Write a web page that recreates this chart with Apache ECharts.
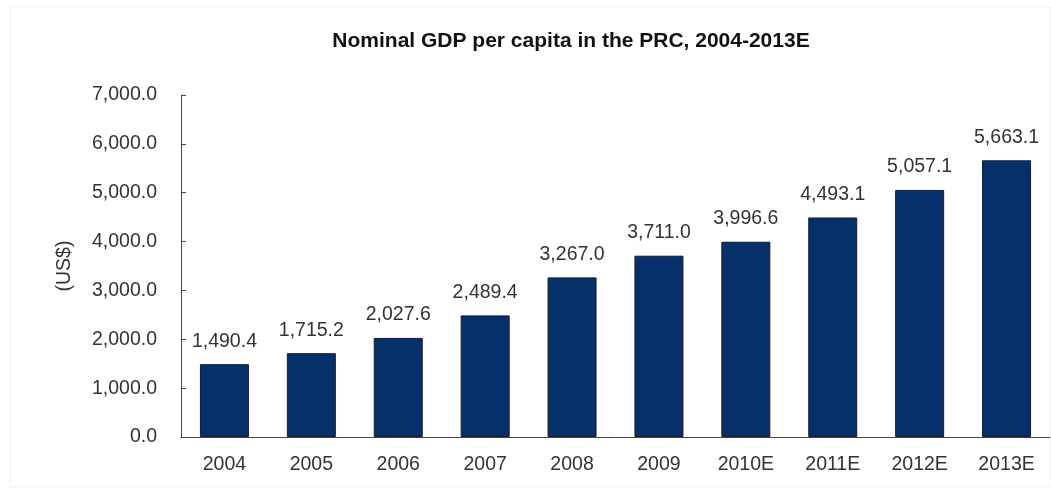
<!DOCTYPE html>
<html><head><meta charset="utf-8">
<script src="https://cdn.jsdelivr.net/npm/echarts@6/dist/echarts.min.js"></script>
<style>html,body{margin:0;padding:0;background:#fff}#c{width:1051px;height:495px}</style>
</head><body><div id="c"></div>
<script>
var categories = ['2004','2005','2006','2007','2008','2009','2010E','2011E','2012E','2013E'];
var gdpValues = [1490.4, 1715.2, 2027.6, 2489.4, 3267.0, 3711.0, 3996.6, 4493.1, 5057.1, 5663.1];
var yTicks = [0, 1000, 2000, 3000, 4000, 5000, 6000, 7000];

function fmt(v){
  return v.toLocaleString('en-US',{minimumFractionDigits:1,maximumFractionDigits:1});
}
var chart = echarts.init(document.getElementById('c'));
chart.setOption({
  animation:false,
  backgroundColor:'#fff',
  graphic:[{type:'rect',shape:{x:10,y:7,width:1040,height:480},style:{fill:'none',stroke:'#f0f0f0',lineWidth:1},silent:true}],
  title:{text:'Nominal GDP per capita in the PRC, 2004-2013E',left:566,top:26,textAlign:'center',
    textStyle:{fontFamily:'Arial',fontSize:21,fontWeight:'bold',color:'#111'}},
  grid:{left:181,right:1,top:95,bottom:58},
  xAxis:{type:'category',data:categories,
    axisLine:{lineStyle:{color:'#444',width:1}},
    axisTick:{inside:true,length:5,lineStyle:{color:'#444'}},
    axisLabel:{fontFamily:'Arial',fontSize:19.5,color:'#333',margin:18}},
  yAxis:{type:'value',min:yTicks[0],max:yTicks[yTicks.length-1],interval:1000,
    name:'(US$)',nameLocation:'middle',nameGap:106,nameRotate:90,
    nameTextStyle:{fontFamily:'Arial',fontSize:19.5,color:'#333'},
    axisLine:{show:true,lineStyle:{color:'#444'}},
    axisTick:{show:true,inside:true,length:5,lineStyle:{color:'#444'}},
    splitLine:{show:false},
    axisLabel:{fontFamily:'Arial',fontSize:19.5,color:'#333',margin:24,formatter:function(v){return fmt(v);}}},
  series:[{type:'bar',data:gdpValues,barWidth:49,
    itemStyle:{color:'#06306a',borderColor:'#1a1a2a',borderWidth:1},
    label:{show:true,position:'top',distance:13,fontFamily:'Arial',fontSize:19.5,color:'#333',
      formatter:function(p){return fmt(p.value);}}}]
});
</script></body></html>
